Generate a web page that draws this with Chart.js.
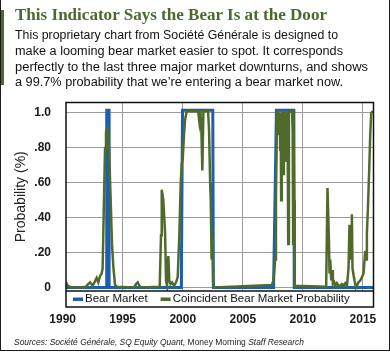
<!DOCTYPE html>
<html>
<head>
<meta charset="utf-8">
<script src="https://cdn.jsdelivr.net/npm/chart.js@4.4.1/dist/chart.umd.min.js"></script>
<style>
  html, body { margin: 0; padding: 0; background: #fff; }
  #page { position: relative; width: 390px; height: 352px; overflow: hidden; }
  #frame { position: absolute; left: 0; top: -2px; width: 390px; height: 353px; box-sizing: border-box;
           border: 1.5px solid #1a1a1a; border-top: none; }
  #bar { position: absolute; left: 1px; top: 10px; width: 3px; height: 75px; background: #4a6a2c; }
  #wrap { position: absolute; left: 0; top: 0; width: 390px; height: 352px; }
  .fit { position: absolute; white-space: nowrap; transform-origin: 0 0; }
  #title { left: 15px; top: 5px; font: bold 17px "Liberation Serif", serif; color: #4a6a2c; }
  .sub { left: 15px; font: 12px "Liberation Sans", Arial, sans-serif; color: #111; line-height: 15px; }
  #src { left: 14px; top: 337px; font: italic 8.5px "Liberation Sans", Arial, sans-serif; color: #222; }
  #src span { font-style: normal; }
</style>
</head>
<body>
<div id="page">
  <div id="wrap"><canvas id="chart"></canvas></div>
  <div id="frame"></div>
  <div id="bar"></div>
  <div id="title" class="fit" data-w="312">This Indicator Says the Bear Is at the Door</div>
  <div class="fit sub" style="top:28px" data-w="323">This proprietary chart from Société Générale is designed to</div>
  <div class="fit sub" style="top:44px" data-w="328">make a looming bear market easier to spot. It corresponds</div>
  <div class="fit sub" style="top:60px" data-w="353">perfectly to the last three major market downturns, and shows</div>
  <div class="fit sub" style="top:75px" data-w="328">a 99.7% probability that we’re entering a bear market now.</div>
  <div id="src" class="fit" data-w="290">Sources: Société Générale, SQ Equity Quant, <span>Money Morning</span> Staff Research</div>
</div>
<script>
  // Daten
  const yearTicks = [1990, 1995, 2000, 2005, 2010, 2015];
  const probTicks = [0, 0.2, 0.4, 0.6, 0.8, 1.0];
  const probTickLabels = ["0", ".20", ".40", ".60", ".80", "1.0"];

  const bearYears = [1990.28, 1993.66, 1993.67, 1993.86, 1993.87, 1999.88, 1999.98, 2002.5, 2002.55,
    2007.56, 2007.8, 2009.25, 2009.28, 2015.88];
  const bearValues = [0, 0, 1.015, 1.015, 0, 0, 1.015, 1.015, 0, 0, 1.015, 1.015, 0, 0];

  const probYears = [
    1990.28, 1990.44, 1990.75, 1991.44, 1991.94, 1992.13, 1992.28, 1992.5, 1992.69, 1992.83,
    1992.97, 1993.11, 1993.25, 1993.33, 1993.44, 1993.53, 1993.61, 1993.72, 1993.8, 1993.86,
    1994.0, 1994.11, 1994.22, 1994.36, 1994.53, 1995.94, 1996.11, 1996.25, 1996.4, 1996.53,
    1998.08, 1998.19, 1998.25, 1998.32, 1998.38, 1998.53, 1998.61, 1998.69, 1998.8, 1998.88,
    1998.98, 1999.11, 1999.28, 1999.44, 1999.58, 1999.72, 1999.83, 1999.92, 2000.0, 2000.11,
    2000.19, 2000.33, 2001.28, 2001.38, 2001.47, 2001.55, 2001.63, 2001.72, 2002.11, 2002.19,
    2002.28, 2002.33, 2002.4, 2002.46, 2002.53, 2002.61,
    2007.42, 2007.55, 2007.69, 2007.76, 2007.83, 2007.9, 2007.97, 2008.02, 2008.07, 2008.11,
    2008.15, 2008.19, 2008.24, 2008.3, 2008.36, 2008.42, 2008.48, 2008.55, 2008.6, 2008.66,
    2008.72, 2008.78, 2008.84, 2009.1, 2009.15, 2009.19, 2009.22, 2009.27, 2009.32,
    2011.94, 2012.05, 2012.17, 2012.22, 2012.28, 2012.36, 2012.44, 2012.5, 2012.61, 2012.69,
    2012.83, 2012.97, 2013.11, 2013.25, 2013.38, 2013.53, 2013.67, 2013.8, 2013.88, 2013.94,
    2014.03, 2014.08, 2014.13, 2014.22, 2014.3, 2014.42, 2014.5, 2014.63, 2014.78, 2014.92,
    2015.05, 2015.19, 2015.28, 2015.33, 2015.42, 2015.53, 2015.61, 2015.69, 2015.83];
  const probValues = [
    0.03, 0.01, 0.0, 0.0, 0.005, 0.02, 0.03, 0.01, 0.035, 0.055,
    0.03, 0.065, 0.08, 0.11, 0.5, 0.8, 0.89, 0.91, 0.86, 0.8,
    0.5, 0.25, 0.12, 0.015, 0.005, 0.0, 0.02, 0.03, 0.01, 0.0,
    0.005, 0.3, 0.56, 0.53, 0.5, 0.31, 0.04, 0.01, 0.18, 0.04,
    0.02, 0.03, 0.01, 0.03, 0.06, 0.31, 0.6, 0.71, 0.74, 0.88,
    0.96, 1.01, 1.01, 0.95, 1.01, 0.9, 0.67, 1.01, 1.01, 0.9,
    0.6, 0.5, 0.16, 0.31, 0.03, 0.0,
    0.015, 0.04, 0.16, 0.5, 0.92, 1.01, 1.01, 0.88, 1.0, 0.79,
    1.0, 0.5, 1.01, 0.95, 0.65, 1.01, 0.9, 0.72, 1.01, 0.92,
    1.01, 0.25, 1.01, 1.01, 0.9, 0.25, 1.01, 0.5, 0.01,
    0.005, 0.57, 0.27, 0.08, 0.16, 0.04, 0.1, 0.02, 0.03, 0.01,
    0.025, 0.01, 0.01, 0.02, 0.01, 0.025, 0.01, 0.11, 0.36, 0.16,
    0.31, 0.42, 0.11, 0.07, 0.04, 0.0, 0.01, 0.03, 0.04, 0.06,
    0.08, 0.21, 0.16, 0.31, 0.46, 0.69, 0.88, 1.0, 1.01];

  const BLAU = "#1d5fae";
  const GRUEN = "#4e6b2b";

  const zip = (xs, ys) => xs.map((x, i) => ({ x: x, y: ys[i] }));

  // Rahmen um Plot + Legende, Legende unter dem Plot
  const rahmenLegende = {
    id: "rahmenLegende",
    afterDraw(chart) {
      const { ctx, chartArea: a } = chart;
      ctx.save();
      ctx.strokeStyle = "#111";
      ctx.lineWidth = 1.5;
      ctx.strokeRect(a.left, a.top, a.right - a.left, a.bottom + 16 - a.top);
      ctx.beginPath();
      ctx.moveTo(a.left, a.bottom);
      ctx.lineTo(a.right, a.bottom);
      ctx.stroke();

      const ly = a.bottom + 8;
      ctx.font = '11.5px "Liberation Sans", Arial, sans-serif';
      ctx.textBaseline = "middle";
      let x = a.left + 7;
      chart.data.datasets.forEach(ds => {
        ctx.fillStyle = ds.borderColor;
        ctx.fillRect(x, ly - 1.5, 10, 3.5);
        ctx.fillStyle = "#111";
        ctx.fillText(ds.label, x + 12, ly);
        x += 12 + ctx.measureText(ds.label).width + 13;
      });
      ctx.restore();
    }
  };

  new Chart(document.getElementById("chart"), {
    type: "line",
    data: {
      datasets: [
        { label: "Bear Market", data: zip(bearYears, bearValues), borderColor: BLAU,
          borderWidth: 3, pointRadius: 0, tension: 0, order: 1 },
        { label: "Coincident Bear Market Probability", data: zip(probYears, probValues), borderColor: GRUEN,
          borderWidth: 2.5, pointRadius: 0, tension: 0, order: 0 },
      ],
    },
    options: {
      responsive: true,
      maintainAspectRatio: false,
      animation: false,
      layout: { padding: { left: 0, right: 16.5, top: 102.5, bottom: 23 } },
      plugins: { legend: { display: false }, tooltip: { enabled: false } },
      scales: {
        x: {
          type: "linear", min: 1990.28, max: 2015.88,
          afterBuildTicks: s => { s.ticks = yearTicks.map(v => ({ value: v })); },
          afterFit: s => { s.height = 38; s.paddingLeft = 0; s.paddingRight = 0; },
          border: { display: false },
          grid: { color: c => (c.tick && c.tick.value === 1990) ? "rgba(0,0,0,0)" : "#9c9c9c", lineWidth: 1, drawTicks: false },
          ticks: { callback: v => String(v), autoSkip: false, maxRotation: 0, padding: 21,
                   color: "#1a1a1a", font: { family: "Liberation Sans", weight: "bold", size: 12 } },
        },
        y: {
          min: -0.02, max: 1.06,
          afterBuildTicks: s => { s.ticks = probTicks.map(v => ({ value: v })); },
          afterFit: s => { s.width = 66; s.paddingTop = 0; s.paddingBottom = 0; },
          border: { display: false },
          grid: { color: "#9c9c9c", lineWidth: 1, drawTicks: false },
          ticks: { callback: (v, i) => probTickLabels[i], padding: 15,
                   color: "#1a1a1a", font: { family: "Liberation Sans", weight: "bold", size: 12 } },
          title: { display: true, text: "Probability (%)", color: "#222", padding: { top: 13, bottom: 0 },
                   font: { family: "Liberation Sans", size: 14 } },
        },
      },
    },
    plugins: [rahmenLegende],
  });

  // Texte auf die Breite im Original bringen
  document.querySelectorAll(".fit").forEach(el => {
    const w = el.getBoundingClientRect().width;
    el.style.transform = `scaleX(${el.dataset.w / w})`;
  });
</script>
</body>
</html>
